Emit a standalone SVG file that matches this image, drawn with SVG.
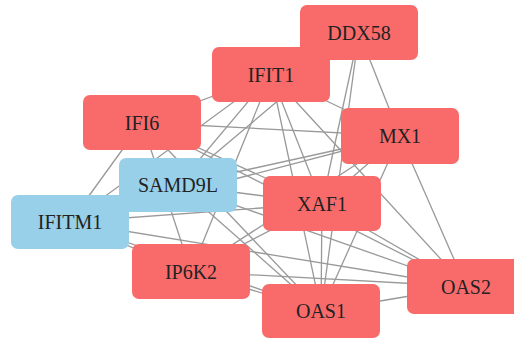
<svg xmlns="http://www.w3.org/2000/svg" width="514" height="340" viewBox="0 0 514 340">
<style>
.e{stroke:#999;stroke-width:1.3;fill:none}
.r{fill:#F96B6B}
.b{fill:#98CFE9}
.t{font-family:"Liberation Serif","Times New Roman",serif;font-size:20px;fill:#222;text-anchor:middle}
</style>
<rect width="514" height="340" fill="#fff"/>
<g id="edges">
<line class="e" x1="359" y1="32.5" x2="271" y2="74.5"/>
<line class="e" x1="359" y1="32.5" x2="400" y2="136"/>
<line class="e" x1="359" y1="32.5" x2="178" y2="185"/>
<line class="e" x1="359" y1="32.5" x2="322" y2="203.5"/>
<line class="e" x1="359" y1="32.5" x2="321" y2="311"/>
<line class="e" x1="271" y1="74.5" x2="400" y2="136"/>
<line class="e" x1="271" y1="74.5" x2="142" y2="122.5"/>
<line class="e" x1="271" y1="74.5" x2="178" y2="185"/>
<line class="e" x1="271" y1="74.5" x2="70" y2="222"/>
<line class="e" x1="271" y1="74.5" x2="191" y2="271.5"/>
<line class="e" x1="271" y1="74.5" x2="322" y2="203.5"/>
<line class="e" x1="271" y1="74.5" x2="321" y2="311"/>
<line class="e" x1="271" y1="74.5" x2="466" y2="286.5"/>
<line class="e" x1="400" y1="136" x2="142" y2="122.5"/>
<line class="e" x1="400" y1="136" x2="178" y2="185"/>
<line class="e" x1="400" y1="136" x2="70" y2="222"/>
<line class="e" x1="400" y1="136" x2="191" y2="271.5"/>
<line class="e" x1="400" y1="136" x2="322" y2="203.5"/>
<line class="e" x1="400" y1="136" x2="321" y2="311"/>
<line class="e" x1="400" y1="136" x2="466" y2="286.5"/>
<line class="e" x1="142" y1="122.5" x2="70" y2="222"/>
<line class="e" x1="142" y1="122.5" x2="191" y2="271.5"/>
<line class="e" x1="142" y1="122.5" x2="322" y2="203.5"/>
<line class="e" x1="142" y1="122.5" x2="321" y2="311"/>
<line class="e" x1="142" y1="122.5" x2="466" y2="286.5"/>
<line class="e" x1="178" y1="185" x2="322" y2="203.5"/>
<line class="e" x1="178" y1="185" x2="321" y2="311"/>
<line class="e" x1="178" y1="185" x2="466" y2="286.5"/>
<line class="e" x1="70" y1="222" x2="191" y2="271.5"/>
<line class="e" x1="70" y1="222" x2="322" y2="203.5"/>
<line class="e" x1="70" y1="222" x2="321" y2="311"/>
<line class="e" x1="70" y1="222" x2="466" y2="286.5"/>
<line class="e" x1="191" y1="271.5" x2="322" y2="203.5"/>
<line class="e" x1="191" y1="271.5" x2="321" y2="311"/>
<line class="e" x1="191" y1="271.5" x2="466" y2="286.5"/>
<line class="e" x1="322" y1="203.5" x2="321" y2="311"/>
<line class="e" x1="322" y1="203.5" x2="466" y2="286.5"/>
<line class="e" x1="321" y1="311" x2="466" y2="286.5"/>
</g>
<g id="DDX58"><rect class="r" x="300" y="5" width="118" height="55" rx="7"/><text class="t" x="359" y="39.5">DDX58</text></g>
<g id="IFIT1"><rect class="r" x="212" y="47" width="118" height="55" rx="7"/><text class="t" x="271" y="81.5">IFIT1</text></g>
<g id="MX1"><rect class="r" x="341" y="108" width="118" height="56" rx="7"/><text class="t" x="400" y="143">MX1</text></g>
<g id="IFI6"><rect class="r" x="83" y="95" width="118" height="55" rx="7"/><text class="t" x="142" y="129.5">IFI6</text></g>
<g id="IFITM1"><rect class="b" x="11" y="195" width="118" height="54" rx="7"/><text class="t" x="70" y="229">IFITM1</text></g>
<g id="SAMD9L"><rect class="b" x="119" y="158" width="118" height="54" rx="7"/><text class="t" x="178" y="192">SAMD9L</text></g>
<g id="IP6K2"><rect class="r" x="132" y="244" width="118" height="55" rx="7"/><text class="t" x="191" y="278.5">IP6K2</text></g>
<g id="XAF1"><rect class="r" x="263" y="176" width="118" height="55" rx="7"/><text class="t" x="322" y="210.5">XAF1</text></g>
<g id="OAS1"><rect class="r" x="262" y="284" width="118" height="54" rx="7"/><text class="t" x="321" y="318">OAS1</text></g>
<g id="OAS2"><rect class="r" x="407" y="259" width="118" height="55" rx="7"/><text class="t" x="466" y="293.5">OAS2</text></g>
</svg>
